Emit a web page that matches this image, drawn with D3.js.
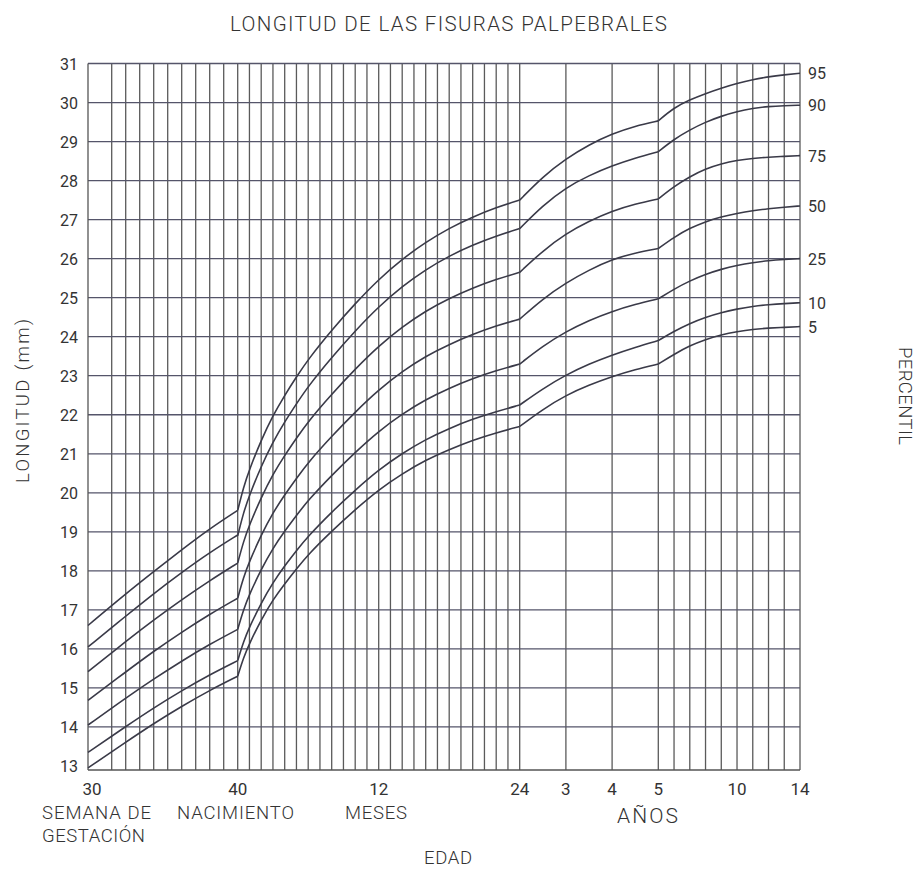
<!DOCTYPE html>
<html>
<head>
<meta charset="utf-8">
<script src="https://cdn.jsdelivr.net/npm/d3@7/dist/d3.min.js"></script>
<style>
body { margin: 0; background: #fff; }
text { font-family: "Roboto", "Liberation Sans", sans-serif; fill: #333; }
</style>
</head>
<body>
<script>
// edad: semanas de gestación, meses, años
var weeks = [30, 32, 34, 36, 38, 40];
var months = [0, 0.5, 1, 2, 3, 4, 5, 6, 8, 10, 12, 14, 16, 18, 20, 22, 24];
var years = [2, 2.5, 3, 3.5, 4, 4.5, 5, 6, 7, 8, 9, 10, 11, 12, 13, 14];

var percentiles = ["95", "90", "75", "50", "25", "10", "5"];

// longitud (mm) por percentil: [semanas, meses, años]
var p95 = [
    [16.6, 17.41, 17.98, 18.54, 19.08, 19.55],
    [19.55, 20.15, 20.6, 21.35, 21.98, 22.5, 22.97, 23.42, 24.17, 24.85, 25.47, 25.99, 26.42, 26.78, 27.07, 27.31, 27.5],
    [27.5, 28.1, 28.56, 28.92, 29.2, 29.4, 29.53, 29.87, 30.07, 30.23, 30.37, 30.49, 30.59, 30.66, 30.71, 30.75]
];
var p90 = [
    [16.05, 16.84, 17.42, 17.96, 18.47, 18.92],
    [18.9, 19.5, 19.94, 20.68, 21.3, 21.82, 22.28, 22.73, 23.47, 24.15, 24.77, 25.29, 25.72, 26.07, 26.35, 26.58, 26.77],
    [26.77, 27.36, 27.82, 28.13, 28.38, 28.58, 28.74, 29.06, 29.3, 29.5, 29.65, 29.77, 29.85, 29.9, 29.92, 29.93]
];
var p75 = [
    [15.42, 16.19, 16.74, 17.26, 17.75, 18.2],
    [18.2, 18.76, 19.18, 19.88, 20.48, 20.96, 21.4, 21.83, 22.53, 23.17, 23.76, 24.25, 24.66, 24.98, 25.25, 25.47, 25.65],
    [25.65, 26.2, 26.64, 26.96, 27.22, 27.4, 27.53, 27.85, 28.1, 28.3, 28.43, 28.52, 28.57, 28.6, 28.62, 28.64]
];
var p50 = [
    [14.68, 15.41, 15.94, 16.43, 16.89, 17.3],
    [17.3, 17.84, 18.24, 18.92, 19.49, 19.95, 20.37, 20.78, 21.45, 22.07, 22.64, 23.11, 23.5, 23.8, 24.06, 24.28, 24.45],
    [24.45, 24.97, 25.38, 25.71, 25.98, 26.15, 26.26, 26.55, 26.78, 26.95, 27.07, 27.16, 27.23, 27.28, 27.32, 27.35]
];
var p25 = [
    [14.05, 14.74, 15.23, 15.69, 16.12, 16.5],
    [16.5, 17.01, 17.4, 18.04, 18.58, 19.02, 19.42, 19.81, 20.45, 21.04, 21.58, 22.02, 22.39, 22.68, 22.93, 23.13, 23.3],
    [23.3, 23.76, 24.13, 24.42, 24.65, 24.83, 24.97, 25.22, 25.43, 25.6, 25.73, 25.83, 25.9, 25.95, 25.98, 26.0]
];
var p10 = [
    [13.35, 14.01, 14.49, 14.93, 15.34, 15.7],
    [15.7, 16.19, 16.56, 17.18, 17.7, 18.13, 18.52, 18.89, 19.51, 20.07, 20.59, 21.01, 21.37, 21.65, 21.89, 22.08, 22.25],
    [22.25, 22.67, 23.02, 23.3, 23.53, 23.73, 23.9, 24.14, 24.34, 24.5, 24.62, 24.71, 24.78, 24.82, 24.85, 24.87]
];
var p5 = [
    [12.95, 13.61, 14.09, 14.53, 14.94, 15.3],
    [15.3, 15.78, 16.14, 16.75, 17.26, 17.67, 18.05, 18.42, 19.02, 19.57, 20.08, 20.49, 20.84, 21.11, 21.35, 21.54, 21.7],
    [21.7, 22.14, 22.5, 22.76, 22.98, 23.16, 23.3, 23.55, 23.77, 23.93, 24.05, 24.13, 24.19, 24.22, 24.24, 24.26]
];
var series = [p95, p90, p75, p50, p25, p10, p5];

var xTickLabels = ["30", "40", "12", "24", "3", "4", "5", "10", "14"];
var xTickUnits = ["sem", "sem", "mes", "mes", "año", "año", "año", "año", "año"];
var xTickValues = [30, 40, 12, 24, 3, 4, 5, 10, 14];
var yTicks = d3.range(13, 32);

var w = 922;
var h = 869;
var plotTop = 63.5, plotBottom = 770, plotLeft = 88, plotRight = 800;

// todo pasa a meses desde el nacimiento
function wk(d) { return (d - 40) * 12 / 52; }
function toMonths(v, u) { return u == "sem" ? wk(v) : (u == "año" ? v * 12 : v); }

var x = d3.scaleLinear()
    .domain([wk(30), wk(31), 0, 24, 60, 168])
    .range([plotLeft, 111.7, 237.7, 519.7, 658.3, plotRight]);
var y = d3.scaleLinear().domain([13, 31]).range([766, plotTop]);

var svg = d3.select("body")
    .append("svg")
    .attr("width", w)
    .attr("height", h);

// rejilla vertical
var gridX = d3.range(31, 40).map(wk)
    .concat(d3.range(0, 25))
    .concat(d3.range(3, 15).map(function(d){ return d * 12; }));

svg.selectAll("line.v")
    .data(gridX)
    .enter()
    .append("line")
    .attr("x1", function(d){ return x(d); })
    .attr("x2", function(d){ return x(d); })
    .attr("y1", plotTop)
    .attr("y2", plotBottom)
    .attr("stroke", "#5a5a5a")
    .attr("stroke-width", 1.3);

// rejilla horizontal
svg.selectAll("line.h")
    .data(d3.range(14, 32))
    .enter()
    .append("line")
    .attr("x1", plotLeft)
    .attr("x2", plotRight)
    .attr("y1", function(d){ return y(d); })
    .attr("y2", function(d){ return y(d); })
    .attr("stroke", "#55556a")
    .attr("stroke-width", 1.3);

svg.append("line")
    .attr("x1", plotLeft).attr("x2", plotRight)
    .attr("y1", plotBottom).attr("y2", plotBottom)
    .attr("stroke", "#555").attr("stroke-width", 1.3);
svg.append("line")
    .attr("x1", plotLeft).attr("x2", plotLeft)
    .attr("y1", plotTop).attr("y2", plotBottom)
    .attr("stroke", "#555").attr("stroke-width", 1.3);

// curvas
var line = d3.line()
    .x(function(d){ return x(d[0]); })
    .y(function(d){ return y(d[1]); })
    .curve(d3.curveBasis);

series.forEach(function(s){
    var segs = [];
    segs.push(weeks.map(function(d, i){ return [wk(d), s[0][i]]; }));
    segs.push(months.map(function(d, i){ return [d, s[1][i]]; }));
    var yrs = years.map(function(d, i){ return [d * 12, s[2][i]]; });
    segs.push(yrs.filter(function(d){ return d[0] <= 60; }));
    segs.push(yrs.filter(function(d){ return d[0] >= 60; }));
    svg.selectAll(null)
        .data(segs)
        .enter()
        .append("path")
        .attr("d", line)
        .attr("fill", "none")
        .attr("stroke", "#3a3a48")
        .attr("stroke-width", 1.6);
});

// etiquetas de percentil
svg.selectAll("text.pct")
    .data(percentiles)
    .enter()
    .append("text")
    .text(function(d){ return d; })
    .attr("x", 808)
    .attr("y", function(d, i){ var s = series[i][2]; return y(s[s.length - 1]) + 6; })
    .attr("font-size", "16px");

// ejes
svg.selectAll("text.yt")
    .data(yTicks)
    .enter()
    .append("text")
    .text(function(d){ return d; })
    .attr("x", 78)
    .attr("y", function(d){ return y(d) + 6; })
    .attr("text-anchor", "end")
    .attr("font-size", "16px");

svg.selectAll("text.xt")
    .data(xTickLabels)
    .enter()
    .append("text")
    .text(function(d){ return d; })
    .attr("x", function(d, i){ return x(toMonths(xTickValues[i], xTickUnits[i])) + (i == 0 ? 4 : 0); })
    .attr("y", 795)
    .attr("text-anchor", "middle")
    .attr("font-size", "17px");

// texto, x, y, anclaje, tamaño, ancho
var labels = [
    ["SEMANA DE", 42, 819, "start", 18.5, 109],
    ["GESTACIÓN", 42, 842, "start", 18.5, 103],
    ["NACIMIENTO", 177, 819, "start", 18.5, 117],
    ["MESES", 345, 819, "start", 18.5, 62],
    ["AÑOS", 617, 823, "start", 21, 61],
    ["EDAD", 424, 864, "start", 18.5, 48],
    ["LONGITUD DE LAS FISURAS PALPEBRALES", 230, 31, "start", 20.5, 437]
];
svg.selectAll("text.lab")
    .data(labels)
    .enter()
    .append("text")
    .text(function(d){ return d[0]; })
    .attr("x", function(d){ return d[1]; })
    .attr("y", function(d){ return d[2]; })
    .attr("text-anchor", function(d){ return d[3]; })
    .attr("font-size", function(d){ return d[4] + "px"; })
    .attr("textLength", function(d){ return d[5]; })
    .attr("lengthAdjust", "spacing")
    .attr("font-weight", 300);

svg.append("text")
    .text("LONGITUD (mm)")
    .attr("transform", "translate(29,483) rotate(-90)")
    .attr("font-size", "18.5px")
    .attr("textLength", 164)
    .attr("lengthAdjust", "spacing")
    .attr("font-weight", 300);

svg.append("text")
    .text("PERCENTIL")
    .attr("transform", "translate(899,347) rotate(90)")
    .attr("font-size", "18.5px")
    .attr("textLength", 98)
    .attr("lengthAdjust", "spacing")
    .attr("font-weight", 300);
</script>
</body>
</html>
